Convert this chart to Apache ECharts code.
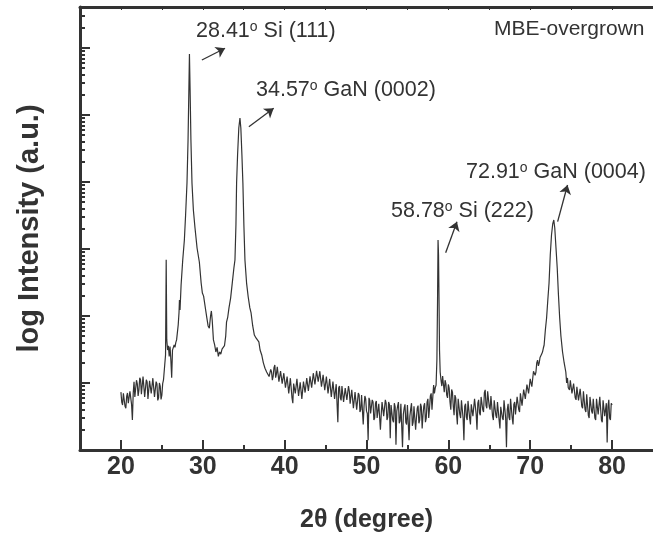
<!DOCTYPE html>
<html>
<head>
<meta charset="utf-8">
<script src="https://cdn.jsdelivr.net/npm/echarts@6/dist/echarts.min.js"></script>
<style>
html, body { margin: 0; padding: 0; background: #fff; }
#main { width: 653px; height: 539px; }
</style>
</head>
<body>
<div id="main"></div>
<script>
// XRD scan, [2theta (deg), counts]
var scanLowAngle = [
  [20.0,73],[20.1,52],[20.2,47],[20.3,70],[20.4,66],[20.5,45],[20.6,42],[20.7,63],[20.8,71],[20.9,50],
  [21.0,52],[21.1,75],[21.2,79],[21.3,48],[21.4,28],[21.5,70],[21.6,104],[21.7,62],[21.8,66],[21.9,110],
  [22.0,97],[22.1,64],[22.2,79],[22.3,120],[22.4,111],[22.5,68],[22.6,71],[22.7,125],[22.8,119],[22.9,62],
  [23.0,60],[23.1,112],[23.2,104],[23.3,58],[23.4,56],[23.5,108],[23.6,115],[23.7,70],[23.8,73],[23.9,118],
  [24.0,111],[24.1,62],[24.2,58],[24.3,105],[24.4,97],[24.5,55],[24.6,60],[24.7,100],[24.8,90],[24.9,57],
  [25.0,66],[25.1,98],[25.2,111],[25.35,186],[25.45,262],[25.53,6900],
  [25.6,440],[25.7,310],[25.8,360],[25.9,250],[26.0,350],[26.1,220],[26.2,120],[26.3,310],[26.4,290],[26.5,370],
  [26.6,340],[26.7,400],[26.8,440],[26.9,470],[27.0,740],[27.1,1150],[27.15,1730],[27.22,1230],[27.35,2900]
];
var scanSiGaN = [
  [27.55,6860],[27.75,13600],[27.9,32100],[28.07,96600],[28.2,424000],[28.3,2360000],[28.37,8130000],
  [28.45,2360000],[28.55,424000],[28.68,96600],[28.85,38200],[29.05,20600],[29.3,10350],[29.58,6400],
  [29.8,3110],[29.95,2200],[30.1,1980],[30.2,1850],[30.35,1230],[30.5,930],[30.65,710],[30.8,660],
  [30.95,1000],[31.05,1190],[31.15,870],[31.3,440],[31.45,370],[31.6,290],[31.75,340],[31.9,250],
  [32.05,290],[32.2,270],[32.35,320],[32.5,300],[32.65,360],[32.8,500],[32.9,810],[33.05,965],
  [33.2,1320],[33.4,1850],[33.6,3100],[33.8,5200],[33.93,6860],[34.05,22800],[34.13,96600],[34.25,253000],
  [34.4,640000],[34.54,902000],[34.65,640000],[34.78,253000],[34.9,96600],[35.02,22800],[35.15,6860],
  [35.35,3100],[35.55,1920],[35.75,1320],[35.9,1110],[36.1,710],[36.3,520],[36.5,470],[36.7,440],
  [36.85,410],[37.0,311],[37.2,262],[37.4,200],[37.6,166],[37.8,146]
];
var scanMid = [
  [38.0,156],[38.1,125],[38.2,119],[38.3,160],[38.4,146],[38.5,110],[38.6,127],[38.7,170],[38.8,186],[38.9,120],
  [39.0,137],[39.1,175],[39.2,180],[39.3,105],[39.4,111],[39.5,150],[39.6,146],[39.7,98],[39.8,93],[39.9,140],
  [40.0,132],[40.1,85],[40.2,81],[40.3,125],[40.4,119],[40.5,70],[40.6,66],[40.7,118],[40.8,111],[40.9,60],
  [41.0,50],[41.1,98],[41.2,104],[41.3,70],[41.4,73],[41.5,115],[41.6,111],[41.7,64],[41.8,66],[41.9,102],
  [42.0,97],[42.1,58],[42.2,56],[42.3,105],[42.4,100],[42.5,72],[42.6,69],[42.7,118],[42.8,115],[42.9,76],
  [43.0,79],[43.1,126],[43.2,123],[43.3,85],[43.4,90],[43.5,140],[43.6,137],[43.7,95],[43.8,100],[43.9,152],
  [44.0,150],[44.1,105],[44.2,111],[44.3,150],[44.4,141],[44.5,88],[44.6,90],[44.7,132],[44.8,127],[44.9,78],
  [45.0,81],[45.1,125],[45.2,119],[45.3,70],[45.4,73],[45.5,115],[45.6,111],[45.7,62],[45.8,66],[45.9,105],
  [46.0,100],[46.1,58],[46.2,60],[46.3,96],[46.4,93],[46.5,26],[46.6,84],[46.7,90],[46.8,60],[46.9,55],
  [47.0,90],[47.1,86],[47.2,52],[47.3,50],[47.4,84],[47.5,80],[47.6,56],[47.7,54],[47.8,90],[47.9,76],
  [48.0,49],[48.1,47],[48.2,79],[48.3,75],[48.4,42],[48.5,44],[48.6,73],[48.7,70],[48.8,40],[48.9,38],
  [49.0,71],[49.1,66],[49.2,37],[49.3,40],[49.4,66],[49.5,62],[49.6,24],[49.7,45],[49.8,64],[49.9,58],
  [50.0,38],[50.1,35],[50.2,14],[50.3,60],[50.4,55],[50.5,35],[50.6,33],[50.7,56],[50.8,52],[50.9,28],
  [51.0,30],[51.1,50],[51.2,54],[51.3,30],[51.4,32],[51.5,49],[51.6,46],[51.7,20],[51.8,34],[51.9,52],
  [52.0,55],[52.1,32],[52.2,30],[52.3,56],[52.4,50],[52.5,28],[52.6,31],[52.7,52],[52.8,48],[52.9,15],
  [53.0,47],[53.1,50],[53.2,28],[53.3,26],[53.4,50],[53.5,44],[53.6,12],[53.7,38],[53.8,45],[53.9,52],
  [54.0,25],[54.1,27],[54.2,49],[54.3,46],[54.4,11],[54.5,34],[54.6,42],[54.7,48],[54.8,26],[54.9,24],
  [55.0,47],[55.1,44],[55.2,14],[55.3,32],[55.4,41],[55.5,50],[55.6,23],[55.7,26],[55.8,45],[55.9,48],
  [56.0,20],[56.1,30],[56.2,42],[56.3,46],[56.4,25],[56.5,28],[56.6,49],[56.7,44],[56.8,21],[56.9,33],
  [57.0,45],[57.1,50],[57.2,26],[57.3,30],[57.4,52],[57.5,58],[57.6,30],[57.7,42],[57.8,64],[57.9,70],
  [58.0,40],[58.1,62],[58.2,93],[58.3,70],[58.4,85],[58.5,93],[58.6,220],[58.68,1730],[58.74,13600],
  [58.8,8130],[58.86,1730],[58.92,311],[59.0,146],[59.1,111],[59.2,90],[59.3,127],[59.4,95],[59.5,73],
  [59.6,110],[59.7,97],[59.8,66],[59.9,60]
];
var scanHighAngle = [
  [60.0,95],[60.1,84],[60.2,52],[60.3,40],[60.4,80],[60.5,73],[60.6,45],[60.7,33],[60.8,66],[60.9,60],
  [61.0,35],[61.1,24],[61.2,58],[61.3,56],[61.4,34],[61.5,30],[61.6,55],[61.7,52],[61.8,30],[61.9,14],
  [62.0,45],[62.1,49],[62.2,31],[62.3,28],[62.4,54],[62.5,56],[62.6,30],[62.7,24],[62.8,48],[62.9,50],
  [63.0,32],[63.1,30],[63.2,58],[63.3,60],[63.4,34],[63.5,20],[63.6,50],[63.7,56],[63.8,36],[63.9,33],
  [64.0,62],[64.1,66],[64.2,40],[64.3,37],[64.4,72],[64.5,79],[64.6,46],[64.7,42],[64.8,75],[64.9,71],
  [65.0,44],[65.1,40],[65.2,64],[65.3,60],[65.4,32],[65.5,28],[65.6,55],[65.7,52],[65.8,33],[65.9,30],
  [66.0,52],[66.1,49],[66.2,28],[66.3,21],[66.4,44],[66.5,47],[66.6,30],[66.7,28],[66.8,55],[66.9,52],
  [67.0,30],[67.1,11],[67.2,40],[67.3,49],[67.4,31],[67.5,28],[67.6,58],[67.7,56],[67.8,30],[67.9,24],
  [68.0,48],[68.1,52],[68.2,34],[68.3,32],[68.4,62],[68.5,60],[68.6,40],[68.7,37],[68.8,70],[68.9,73],
  [69.0,46],[69.1,49],[69.2,80],[69.3,84],[69.4,58],[69.5,60],[69.6,95],[69.7,97],[69.8,70],[69.9,73],
  [70.0,115],[70.1,119],[70.2,88],[70.3,90],[70.4,150],[70.5,156],[70.6,130],[70.7,146],[70.8,200],[70.9,220],
  [71.0,180],[71.1,200],[71.2,240],[71.3,250],[71.4,270],[71.5,290],[71.6,330],[71.7,369],
  [71.85,618],[72.0,933],[72.15,1733],[72.3,3110],[72.45,8130],[72.6,16200],[72.75,23600],[72.88,27100],
  [73.0,20600],[73.15,10350],[73.3,5200],[73.45,2060],[73.6,933],[73.75,503],[73.95,290],[74.15,199],
  [74.35,146],[74.45,100],[74.55,119],[74.65,85],[74.8,79],[74.9,110],[75.0,104],[75.1,70],[75.2,66],
  [75.3,98],[75.4,93],[75.5,60],[75.6,56],[75.7,88],[75.8,84],[75.9,55],[76.0,52],[76.1,82],[76.2,79],
  [76.3,45],[76.4,42],[76.5,75],[76.6,71],[76.7,40],[76.8,37],[76.9,68],[77.0,64],[77.1,33],[77.2,30],
  [77.3,62],[77.4,60],[77.5,38],[77.6,35],[77.7,58],[77.8,56],[77.9,30],[78.0,28],[78.1,58],[78.2,56],
  [78.3,34],[78.4,32],[78.5,62],[78.6,60],[78.7,28],[78.8,26],[78.9,55],[79.0,52],[79.1,32],[79.2,30],
  [79.3,50],[79.4,13],[79.5,45],[79.6,56],[79.7,30],[79.8,28],[79.9,50],[80.0,47]
];

// tick values
var xMajorTicks = [20, 30, 40, 50, 60, 70, 80];
var xMinorTicks = [25, 35, 45, 55, 65, 75];
var xTopTicks = [20, 25, 30, 35, 40, 45, 50, 55, 60, 65, 70, 75, 80];
var yMajorTicks = [10, 100, 1e3, 1e4, 1e5, 1e6, 1e7];

// peak labels: text, arrow tail [2theta, counts], arrow head [2theta, counts]
var peakText = ['28.41{s|o} Si (111)', '34.57{s|o} GaN (0002)', '58.78{s|o} Si (222)', '72.91{s|o} GaN (0004)'];
var arrowFrom = [[29.89, 6.62e6], [35.63, 6.69e5], [59.67, 8810], [73.35, 25560]];
var arrowTo = [[32.72, 9.9e6], [38.66, 1.26e6], [61.05, 25560], [74.56, 90200]];

var X_MIN = 15, X_MAX = 85, Y_MIN = 10, Y_MAX = 4.09e7;
var FONT = '"Liberation Sans", Arial, sans-serif';
var INK = '#333';

var yMinorTicks = [];
yMajorTicks.forEach(function (d) {
  for (var k = 2; k <= 9; k++) {
    if (d * k < Y_MAX) yMinorTicks.push(d * k);
  }
});

var scan = scanLowAngle.concat(scanSiGaN, scanMid, scanHighAngle);

var chart = echarts.init(document.getElementById('main'));

var gridBox = { left: 80, top: 7, right: -5, bottom: 89 };

var option = {
  animation: false,
  backgroundColor: '#fff',
  grid: [
    Object.assign({}, gridBox),
    Object.assign({}, gridBox)
  ],
  xAxis: [
    {
      type: 'value', gridIndex: 0, position: 'bottom', min: X_MIN, max: X_MAX,
      axisLine: { lineStyle: { color: INK, width: 3 } },
      axisTick: { inside: true, length: 10, customValues: xMajorTicks, lineStyle: { color: INK, width: 2 } },
      axisLabel: {
        customValues: xMajorTicks, margin: 5, color: INK,
        fontSize: 25, fontWeight: 'bold', fontFamily: FONT
      },
      splitLine: { show: false },
      name: '2θ (degree)', nameLocation: 'middle', nameGap: 58,
      nameTextStyle: { color: INK, fontSize: 25, fontWeight: 'bold', fontFamily: FONT }
    },
    {
      type: 'value', gridIndex: 0, position: 'top', min: X_MIN, max: X_MAX,
      axisLine: { lineStyle: { color: INK, width: 3 } },
      axisTick: { inside: true, length: 3, customValues: xTopTicks, lineStyle: { color: INK, width: 1 } },
      axisLabel: { show: false },
      splitLine: { show: false }
    },
    {
      type: 'value', gridIndex: 1, position: 'bottom', min: X_MIN, max: X_MAX,
      axisLine: { show: false },
      axisTick: { inside: true, length: 5, customValues: xMinorTicks, lineStyle: { color: INK, width: 2 } },
      axisLabel: { show: false },
      splitLine: { show: false }
    }
  ],
  yAxis: [
    {
      type: 'log', logBase: 10, gridIndex: 0, min: Y_MIN, max: Y_MAX,
      axisLine: { lineStyle: { color: INK, width: 3 } },
      axisTick: { inside: true, length: 10, customValues: yMajorTicks, lineStyle: { color: INK, width: 2 } },
      axisLabel: { show: false },
      splitLine: { show: false },
      name: 'log Intensity (a.u.)', nameLocation: 'middle', nameGap: 36,
      nameTextStyle: { color: INK, fontSize: 29, fontWeight: 'bold', fontFamily: FONT }
    },
    {
      type: 'log', logBase: 10, gridIndex: 1, min: Y_MIN, max: Y_MAX,
      axisLine: { show: false },
      axisTick: { inside: true, length: 5, customValues: yMinorTicks, lineStyle: { color: INK, width: 2 } },
      axisLabel: { show: false },
      splitLine: { show: false }
    }
  ],
  series: [
    {
      type: 'line',
      xAxisIndex: 0,
      yAxisIndex: 0,
      data: scan,
      showSymbol: false,
      symbol: 'none',
      lineStyle: { color: INK, width: 1.2 },
      silent: true,
      markLine: {
        silent: true,
        symbol: ['none', 'arrow'],
        symbolSize: 9,
        label: { show: false },
        lineStyle: { color: INK, width: 1.3, type: 'solid' },
        data: arrowFrom.map(function (p, i) {
          return [{ coord: p }, { coord: arrowTo[i] }];
        })
      }
    }
  ],
  graphic: [
    { pos: [196, 20] }, { pos: [256, 79] }, { pos: [391, 200] }, { pos: [466, 161] }
  ].map(function (g, i) {
    return {
      type: 'text', x: g.pos[0], y: g.pos[1], silent: true,
      style: {
        text: peakText[i], fill: INK, fontSize: 21.5, fontFamily: FONT,
        verticalAlign: 'top',
        rich: { s: { fontSize: 14, verticalAlign: 'top', fill: INK, fontFamily: FONT } }
      }
    };
  }).concat([{
    type: 'text', x: 494, y: 19, silent: true,
    style: { text: 'MBE-overgrown', fill: INK, fontSize: 21, fontFamily: FONT, verticalAlign: 'top' }
  }])
};

chart.setOption(option);
</script>
</body>
</html>
